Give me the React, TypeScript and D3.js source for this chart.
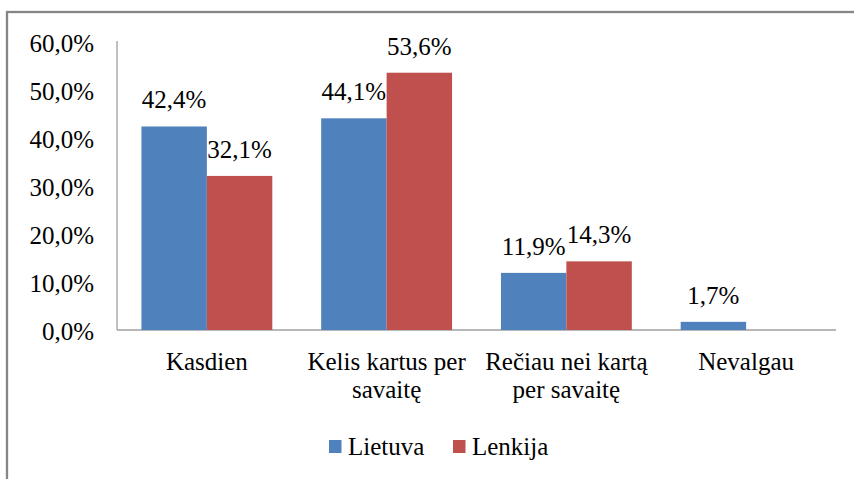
import React from "react";
import * as d3 from "d3";

const categories = ["Kasdien", "Kelis kartus per savaitę", "Rečiau nei kartą per savaitę", "Nevalgau"];
const categoryLines = [["Kasdien"], ["Kelis kartus per", "savaitę"], ["Rečiau nei kartą", "per savaitę"], ["Nevalgau"]];
const seriesNames = ["Lietuva", "Lenkija"];
const lietuva = [42.4, 44.1, 11.9, 1.7];
const lenkija = [32.1, 53.6, 14.3, null as number | null];
const yTicks = [0, 10, 20, 30, 40, 50, 60];
const colors = ["#4F81BD", "#C0504D"];

const W = 854, H = 479;
const font = "'Liberation Serif'";
const FS = 25;

function T({ x, y, anchor = "middle", children }: { x: number; y: number; anchor?: string; children: React.ReactNode }) {
  return (
    <text x={x} y={y} textAnchor={anchor as any} style={{ fontFamily: font, fontSize: FS }} fill="#000">
      {children}
    </text>
  );
}

export default function App() {
  const left = 117, right = 836, top = 42, bottom = 330;
  const x0 = d3.scaleBand<string>().domain(categories).range([left, right]).paddingInner(0.272).paddingOuter(0.136);
  const x1 = d3.scaleBand<string>().domain(seriesNames).range([0, x0.bandwidth()]);
  const y = d3.scaleLinear().domain([0, 60]).range([bottom, top]);
  const fmt = (v: number) => v.toFixed(1).replace(".", ",") + "%";
  const series = [lietuva, lenkija];

  return (
    <svg width={W} height={H} style={{ position: "absolute", left: 0, top: 0, background: "#fff" }}>
      <rect x={7} y={12} width={900} height={600} fill="none" stroke="#868686" strokeWidth={2.3} />
      <line x1={left} x2={left} y1={top - 1} y2={bottom} stroke="#A0A0A0" strokeWidth={1.3} />
      <line x1={left} x2={right} y1={bottom} y2={bottom} stroke="#A0A0A0" strokeWidth={1.3} />
      {yTicks.map((t) => (
        <T key={t} x={94} y={y(t) + 9.5} anchor="end">{fmt(t)}</T>
      ))}
      {categories.map((c, ci) =>
        series.map((s, si) => {
          const v = s[ci];
          if (v == null) return null;
          const bx = (x0(c) as number) + (x1(seriesNames[si]) as number);
          const bw = x1.bandwidth();
          return (
            <g key={c + si}>
              <rect x={bx} y={y(v)} width={bw} height={bottom - y(v)} fill={colors[si]} />
              <T x={bx + bw / 2} y={y(v) - 18}>{fmt(v)}</T>
            </g>
          );
        })
      )}
      {categories.map((c, ci) => {
        const cx = (x0(c) as number) + x0.bandwidth() / 2;
        return categoryLines[ci].map((l, li) => (
          <T key={c + li} x={cx} y={370 + li * 27.5}>{l}</T>
        ));
      })}
      {seriesNames.map((n, i) => {
        const lx = 329 + i * 124;
        return (
          <g key={n}>
            <rect x={lx} y={440} width={12.5} height={13} fill={colors[i]} />
            <T x={lx + 19} y={455} anchor="start">{n}</T>
          </g>
        );
      })}
    </svg>
  );
}
